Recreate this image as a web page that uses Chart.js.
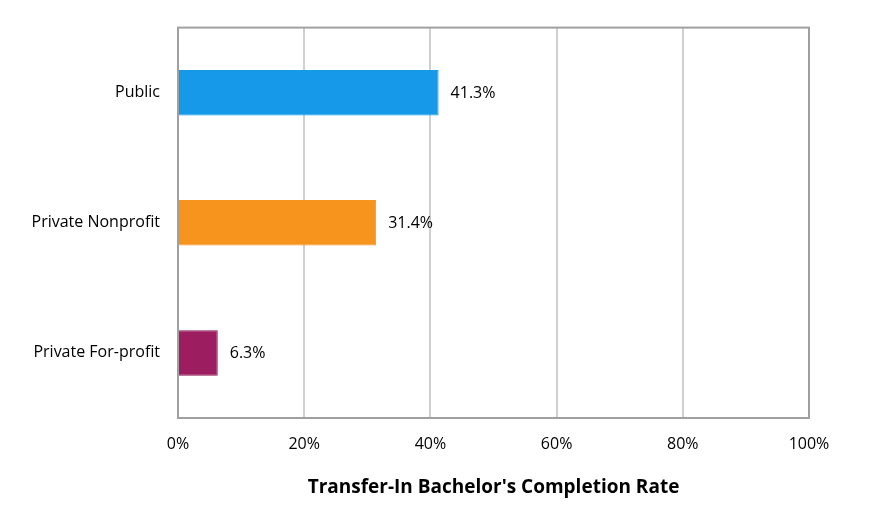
<!DOCTYPE html>
<html>
<head>
<meta charset="utf-8">
<script src="https://cdn.jsdelivr.net/npm/chart.js@4"></script>
<style>
  html, body { margin: 0; padding: 0; background: #fff; }
  #wrap { width: 879px; height: 509px; }
</style>
</head>
<body>
<div id="wrap"><canvas id="grafico"></canvas></div>
<script>
// Dati del grafico
const categorie = ['Public', 'Private Nonprofit', 'Private For-profit'];
const valori = [41.3, 31.4, 6.3];
const colori = ['#1699e8', '#f7941d', '#9c1d60'];
const bordi = ['#1699e8', '#f7941d', '#85184f'];
const titoloAsse = "Transfer-In Bachelor's Completion Rate";

const fontBase = '"Open Sans", Lato, sans-serif';

// Etichette valore accanto alle barre + cornice grigia
const etichette = {
    id: 'etichette',
    afterDatasetsDraw(chart) {
        const ctx = chart.ctx;
        const meta = chart.getDatasetMeta(0);
        ctx.save();
        ctx.font = '16px ' + fontBase;
        ctx.fillStyle = '#000';
        ctx.textAlign = 'left';
        ctx.textBaseline = 'middle';
        meta.data.forEach((bar, i) => {
            ctx.fillText(valori[i].toFixed(1) + '%', bar.x + 12, bar.y + 1);
        });
        ctx.restore();
    },
    afterDraw(chart) {
        const a = chart.chartArea;
        const ctx = chart.ctx;
        ctx.save();
        ctx.strokeStyle = '#a0a0a0';
        ctx.lineWidth = 2;
        ctx.strokeRect(a.left, a.top, a.right - a.left, a.bottom - a.top);
        ctx.restore();
    }
};

new Chart(document.getElementById('grafico'), {
    type: 'bar',
    data: {
        labels: categorie,
        datasets: [{
            data: valori,
            backgroundColor: colori,
            borderColor: bordi,
            borderWidth: 1,
            categoryPercentage: 1,
            barPercentage: 0.35
        }]
    },
    options: {
        indexAxis: 'y',
        responsive: true,
        maintainAspectRatio: false,
        animation: false,
        layout: { padding: { top: 25, right: 70, left: 0, bottom: 0 } },
        plugins: {
            legend: { display: false },
            tooltip: { enabled: false }
        },
        scales: {
            x: {
                min: 0,
                max: 100,
                ticks: {
                    stepSize: 20,
                    color: '#000',
                    padding: 17,
                    font: { size: 16, family: fontBase },
                    callback: v => v + '%'
                },
                grid: { color: '#d0d0d0', lineWidth: 2, drawTicks: false },
                border: { display: false },
                title: {
                    display: true,
                    text: titoloAsse,
                    color: '#000',
                    font: { size: 19, weight: 'bold', family: fontBase },
                    padding: { top: 0, bottom: 10 }
                },
                afterFit(scale) { scale.height = 91; }
            },
            y: {
                ticks: {
                    color: '#000',
                    padding: 18,
                    font: { size: 16, family: fontBase }
                },
                grid: { display: false, drawTicks: false },
                border: { display: false },
                afterFit(scale) { scale.width = 178; }
            }
        }
    },
    plugins: [etichette]
});
</script>
</body>
</html>
